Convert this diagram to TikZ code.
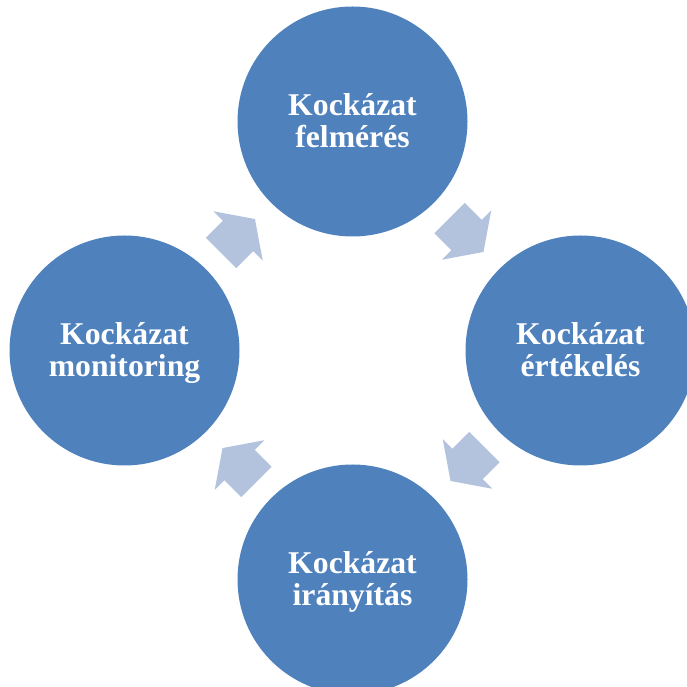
\documentclass[tikz,border=0pt]{standalone}
\usepackage{fontspec}
\setmainfont{Liberation Serif}
\usetikzlibrary{calc}
\definecolor{circfill}{HTML}{4F81BD}
\definecolor{arrowfill}{HTML}{B3C3DE}
\newcommand{\mytopstrut}{\rule{0pt}{30pt}}
\newcommand{\mybotstrut}{\rule[-9.5pt]{0pt}{9.5pt}}
\begin{document}
\begin{tikzpicture}[x=1pt,y=1pt,
  stagecircle/.style={circle, fill=circfill, draw=none, minimum size=230pt, inner sep=0pt,
    text=white, align=center, font=\fontsize{31.7}{32}\selectfont\bfseries},
  blockarrow/.pic={\fill[arrowfill] (-24,-21.5) -- (0,-21.5) -- (0,-35) -- (24,0) -- (0,35) -- (0,21.5) -- (-24,21.5) -- cycle;}
]
\useasboundingbox (0,0) rectangle (687,687);
\clip (0,0) rectangle (687,687);
\coordinate (C) at (352.5,336.5);
\node[stagecircle] (c1) at ($(C)+(0,229)$) {\mytopstrut Kockázat\\felmérés\mybotstrut};
\node[stagecircle] (c2) at ($(C)+(228,0)$) {\mytopstrut Kockázat\\értékelés\mybotstrut};
\node[stagecircle] (c3) at ($(C)+(0,-229)$) {\mytopstrut Kockázat\\irányítás\mybotstrut};
\node[stagecircle] (c4) at ($(C)+(-228,0)$) {\mytopstrut Kockázat\\monitoring\mybotstrut};
\pic[rotate=-45] (a1) at ($(C)+(114,115.5)$) {blockarrow};
\pic[rotate=-135] (a2) at ($(C)+(115,-113.5)$) {blockarrow};
\pic[rotate=135] (a3) at ($(C)+(-113,-114.5)$) {blockarrow};
\pic[rotate=45] (a4) at ($(C)+(-114.5,114.5)$) {blockarrow};
\end{tikzpicture}
\end{document}
